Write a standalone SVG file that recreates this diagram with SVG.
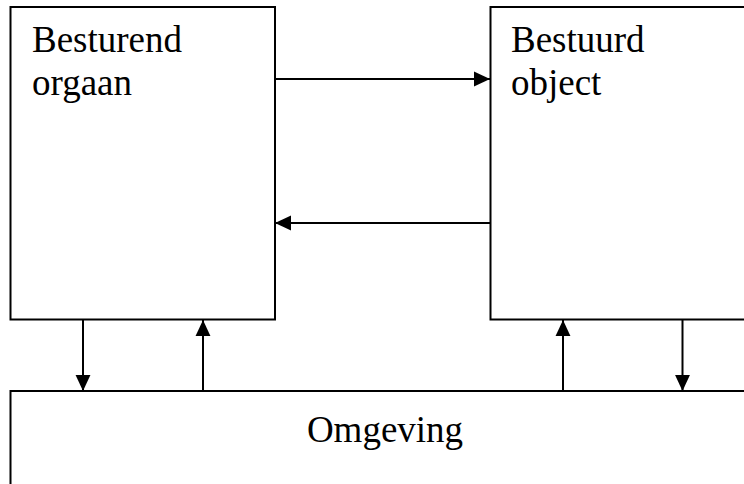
<svg xmlns="http://www.w3.org/2000/svg" width="744" height="484" viewBox="0 0 744 484">
  <style>
    .box { fill: #ffffff; stroke: #000000; stroke-width: 2; }
    .lbl { font-family: "Liberation Serif", "Times New Roman", serif; font-size: 37px; fill: #000000; }
    .conn { stroke: #000000; stroke-width: 2; fill: none; marker-end: url(#arrow); }
  </style>
  <defs>
    <marker id="arrow" markerUnits="userSpaceOnUse" markerWidth="16" markerHeight="16" viewBox="0 0 14 14" refX="14" refY="7" orient="auto">
      <path d="M0,0.5 L14,7 L0,13.5 Z" fill="#000000"/>
    </marker>
  </defs>
  <rect width="744" height="484" fill="#ffffff"/>
  <g id="node-besturend-orgaan">
    <rect class="box" x="10.5" y="7" width="264.5" height="312.5"/>
    <text class="lbl" x="32" y="52">Besturend</text>
    <text class="lbl" x="32" y="95">orgaan</text>
  </g>
  <g id="node-bestuurd-object">
    <rect class="box" x="490.5" y="7" width="262" height="312.5"/>
    <text class="lbl" x="511" y="52">Bestuurd</text>
    <text class="lbl" x="511" y="95">object</text>
  </g>
  <g id="node-omgeving">
    <rect class="box" x="10.5" y="391" width="742" height="100"/>
    <text class="lbl" x="385" y="442" text-anchor="middle">Omgeving</text>
  </g>
  <g id="connectors">
    <line class="conn" x1="275" y1="79" x2="490" y2="79"/>
    <line class="conn" x1="490" y1="223" x2="275" y2="223"/>
    <line class="conn" x1="83" y1="320" x2="83" y2="391"/>
    <line class="conn" x1="203" y1="391" x2="203" y2="320"/>
    <line class="conn" x1="563" y1="391" x2="563" y2="320"/>
    <line class="conn" x1="682.5" y1="320" x2="682.5" y2="391"/>
  </g>
</svg>
